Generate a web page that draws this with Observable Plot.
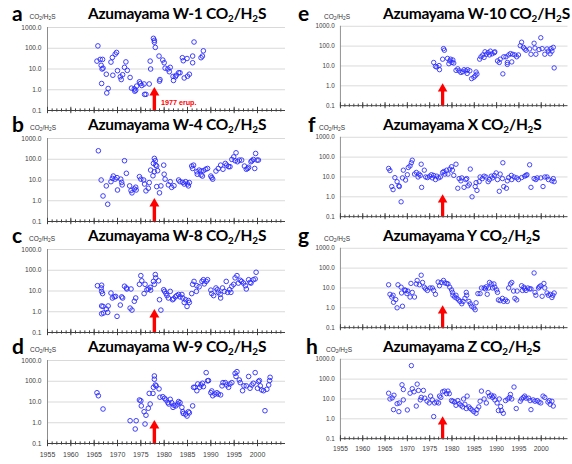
<!DOCTYPE html>
<html><head><meta charset="utf-8">
<script src="https://cdn.jsdelivr.net/npm/d3@7"></script>
<script src="https://cdn.jsdelivr.net/npm/@observablehq/plot@0.6"></script>
<style>
body{margin:0;background:#fff;}
#chart{position:relative;width:572px;height:464px;overflow:hidden;background:#fff;font-family:Lato,"Open Sans",sans-serif;}
.panel{position:absolute;}
.title{position:absolute;font-weight:700;font-size:15.5px;letter-spacing:-0.3px;white-space:nowrap;color:#000;line-height:1;}
.title sub{font-size:0.64em;vertical-align:-0.3em;line-height:0;letter-spacing:0;}
.letter{position:absolute;font-weight:700;font-size:21px;line-height:1;color:#000;}
.unit{position:absolute;font-size:6.5px;color:#333;line-height:1;white-space:nowrap;font-family:"Liberation Sans",sans-serif;}
.unit sub{font-size:0.75em;vertical-align:-0.25em;line-height:0;}
</style>
</head><body>
<div id="chart"></div>
<script>
// ---- data: [year, CO2/H2S ratio] ----
const w1 = [[1965.8,130],[1965.6,24],[1966.3,29],[1966.8,29],[1966.5,15],[1966.7,10],[1966.9,11],[1966.6,2.0],[1967.6,5.6],[1968.0,1.15],[1967.7,0.7],[1968.6,21.5],[1968.9,36],[1969.5,52],[1969.8,63],[1969.0,5],[1970.0,8.3],[1970.6,4.2],[1970.8,3.1],[1971.1,5.3],[1971.5,12],[1971.8,22],[1972.1,8.6],[1972.7,3.9],[1973.0,1.2],[1973.6,1.1],[1973.7,0.85],[1973.9,0.95],[1974.1,1.5],[1974.7,2.4],[1974.9,2.0],[1975.2,1.6],[1975.7,1.9],[1976.1,0.6],[1975.8,0.6],[1976.8,1.9],[1977.0,24],[1977.1,10],[1977.7,300],[1977.9,240],[1977.9,195],[1978.1,110],[1978.9,42],[1979.1,3.1],[1979.0,2.6],[1979.7,27],[1980.0,20],[1980.2,11],[1980.8,10],[1981.1,7.4],[1981.3,12],[1981.9,4.4],[1982.0,2.8],[1982.4,4.2],[1982.6,5],[1983.1,6.6],[1983.4,6.6],[1983.9,35],[1984.1,25],[1984.3,3.7],[1984.9,32],[1985.0,4.5],[1985.4,5.6],[1986.1,42],[1986.1,20],[1986.4,200],[1987.9,35],[1988.2,42],[1988.4,75]];
const w4 = [[1965.9,256],[1966.5,10],[1966.9,1.7],[1967.6,5.2],[1967.9,0.68],[1968.6,8.3],[1968.9,12],[1969.1,15.5],[1969.5,11],[1969.9,13],[1970.0,3.3],[1970.7,11],[1971.0,5.8],[1970.9,7.7],[1971.5,85],[1971.9,21],[1972.6,5.2],[1972.9,3.1],[1973.1,2.4],[1973.6,3.7],[1973.9,4.5],[1974.0,3.3],[1974.7,14.5],[1975.0,11],[1975.6,10],[1975.8,6.4],[1976.1,3.0],[1976.6,4.0],[1976.8,7.5],[1977.1,30],[1977.6,16],[1977.7,63],[1977.9,25],[1977.9,110],[1978.1,85],[1978.2,52],[1978.4,47],[1978.6,28],[1978.4,4.8],[1979.0,2.4],[1979.3,5.2],[1979.9,52],[1980.0,19],[1980.2,11],[1980.9,5.8],[1981.3,8.3],[1981.6,4.4],[1982.1,5.3],[1983.1,10],[1983.4,8.3],[1984.0,7.7],[1984.3,6.4],[1984.6,8.3],[1985.0,6.4],[1985.2,5.2],[1985.4,7.5],[1985.9,47],[1986.1,36],[1986.3,52],[1987.0,25],[1987.1,19],[1987.5,30],[1987.9,27],[1987.9,17.5],[1988.2,15.5],[1988.4,28],[1988.9,33],[1989.3,36],[1990.0,15.5],[1990.2,13],[1990.4,11],[1991.1,27],[1991.6,36],[1992.1,52],[1992.6,33],[1993.1,63],[1993.4,52],[1993.8,44],[1994.1,44],[1994.5,98],[1994.9,130],[1995.2,85],[1995.4,205],[1995.7,76],[1996.1,91],[1996.6,91],[1997.2,47],[1997.6,33],[1997.9,36],[1998.1,41],[1998.6,76],[1998.8,85],[1999.1,98],[1999.4,36],[1999.6,190],[1999.9,91],[2000.2,91]];
const w8 = [[1965.7,18],[1966.5,14],[1966.6,19],[1966.6,9.6],[1966.8,7.5],[1966.6,1.9],[1966.9,1.8],[1967.0,0.87],[1966.6,0.8],[1967.6,1.35],[1967.9,0.93],[1968.0,1.9],[1968.6,8.0],[1968.9,4.6],[1969.3,5.2],[1969.6,5.5],[1969.9,0.6],[1970.6,2.1],[1970.9,5.2],[1971.1,4.6],[1971.5,17],[1971.9,14],[1972.0,12.5],[1972.7,1.5],[1972.9,12.5],[1973.1,1.2],[1973.6,3.2],[1973.9,4.6],[1974.7,21],[1975.0,55],[1975.2,31],[1975.7,7.5],[1975.9,21],[1976.3,11.5],[1976.6,12.5],[1977.0,15],[1977.1,11],[1977.7,29],[1977.9,21],[1978.1,62],[1978.2,43],[1978.8,31],[1979.0,3.8],[1979.3,1.2],[1979.9,11.5],[1980.1,9.6],[1980.4,7.5],[1980.6,6],[1980.9,4.6],[1981.3,9.6],[1981.8,3.8],[1982.0,4.2],[1982.4,5.2],[1982.7,6],[1983.1,6.8],[1983.4,5.2],[1983.8,6.8],[1984.0,4.6],[1984.3,2.8],[1984.6,3.8],[1984.9,1.8],[1985.2,3.5],[1985.4,2.8],[1985.9,7.5],[1986.1,21],[1986.4,29],[1986.9,9.6],[1987.0,18],[1987.5,16],[1988.1,29],[1988.4,35],[1988.6,22],[1989.0,29],[1989.3,35],[1990.0,11],[1990.2,7.5],[1990.6,6],[1991.1,14],[1991.4,11.5],[1991.6,8.6],[1992.0,6.8],[1992.1,4.6],[1992.5,14],[1992.9,9.6],[1993.3,29],[1993.6,8.6],[1994.0,11.5],[1994.3,8.6],[1994.5,17],[1994.9,21],[1995.2,43],[1995.6,55],[1995.9,24],[1996.3,33],[1996.6,29],[1997.0,24],[1997.4,18],[1997.6,12.5],[1998.1,35],[1998.4,26],[1998.6,24],[1999.1,35],[1999.5,38],[1999.7,80]];
const w9 = [[1965.6,28],[1965.9,20],[1966.9,4.6],[1972.7,1.25],[1973.8,0.5],[1974.0,1.25],[1974.7,12.5],[1975.0,11.5],[1975.1,6.5],[1975.7,3.4],[1975.9,0.87],[1976.1,2.3],[1976.6,5],[1977.0,8],[1976.8,26],[1977.6,26],[1977.7,51],[1977.9,180],[1977.9,125],[1978.1,66],[1978.3,60],[1978.9,43],[1979.1,17],[1979.7,18],[1980.1,15],[1980.4,12.5],[1980.8,9.3],[1981.0,8],[1981.3,13.5],[1981.6,9.3],[1981.9,5.5],[1982.1,7],[1982.5,6.5],[1982.9,8],[1983.1,10.5],[1983.4,9.3],[1983.8,5.5],[1984.0,3.4],[1984.1,2.8],[1984.6,2.6],[1984.9,2.1],[1985.2,3.4],[1985.4,3.0],[1986.1,6.5],[1986.3,51],[1986.6,51],[1987.0,35],[1987.2,74],[1987.6,51],[1987.9,66],[1988.2,80],[1988.4,55],[1989.0,260],[1989.3,105],[1989.5,108],[1990.0,28],[1990.2,34],[1990.4,20],[1990.9,24],[1991.3,28],[1991.6,24],[1992.1,22],[1992.4,60],[1992.6,86],[1993.1,86],[1993.4,66],[1993.8,51],[1994.1,74],[1994.5,86],[1995.2,240],[1995.6,290],[1995.4,170],[1996.1,115],[1996.3,86],[1996.8,35],[1997.1,60],[1997.6,60],[1998.1,170],[1998.4,46],[1998.8,66],[1999.1,80],[1999.5,260],[2000.0,46],[2000.2,96],[2000.4,108],[2000.6,60],[2000.9,38],[2001.3,35],[2001.6,3.8],[2002.0,41],[2002.4,66],[2002.6,108],[2002.7,155]];
const w10 = [[1975.9,15],[1976.3,9.5],[1976.6,8.9],[1977.1,10.5],[1977.2,6.5],[1977.9,22],[1978.1,75],[1978.3,62],[1979.0,24],[1979.3,13],[1979.5,18],[1979.7,22],[1980.0,15],[1980.2,20],[1980.4,14],[1980.9,6],[1981.3,7.2],[1981.6,5.7],[1982.0,4.7],[1982.4,5.1],[1982.7,6.5],[1983.1,5.7],[1983.4,4.2],[1983.5,6.5],[1984.0,5.7],[1984.4,2.3],[1984.9,2.7],[1985.2,3.2],[1985.4,5],[1985.6,3.9],[1986.2,22],[1986.5,29],[1986.9,36],[1987.2,27],[1987.4,52],[1987.7,39],[1988.1,47],[1988.4,36],[1988.6,56],[1989.0,41],[1989.5,47],[1989.6,52],[1990.2,18],[1990.6,15],[1990.8,22],[1991.4,4.0],[1991.6,29],[1992.1,29],[1992.4,15],[1992.4,12],[1992.7,36],[1993.1,42],[1993.4,16],[1993.6,39],[1994.1,36],[1994.5,29],[1994.9,36],[1995.3,105],[1995.6,158],[1996.0,87],[1996.3,72],[1996.6,62],[1997.4,72],[1997.7,39],[1998.4,140],[1998.6,80],[1998.8,39],[1999.5,67],[1999.9,265],[2000.2,75],[2000.8,39],[2001.3,72],[2001.6,56],[2002.0,41],[2002.2,75],[2002.4,56],[2002.7,87],[2002.9,8]];
const stX = [[1965.8,27],[1966.1,21],[1966.5,3.3],[1966.8,2.3],[1967.2,9.3],[1967.7,5.8],[1968.1,3.6],[1968.2,3.3],[1968.6,0.56],[1969.1,22],[1968.9,9],[1969.6,7],[1970.0,13],[1970.2,30],[1970.6,36],[1970.9,52],[1971.1,70],[1971.6,14],[1972.0,17],[1972.4,10],[1972.6,14],[1972.9,12],[1973.1,44],[1973.2,3],[1973.8,22],[1974.1,10],[1974.5,9.3],[1975.0,11],[1975.4,13],[1975.6,9],[1975.9,12],[1976.3,7.4],[1976.6,11],[1977.0,9],[1977.4,10],[1977.9,17],[1978.2,19],[1978.4,14],[1978.8,22],[1979.1,14],[1979.5,25],[1979.9,33],[1980.1,22],[1980.4,12],[1980.9,44],[1981.3,2.7],[1981.6,8.3],[1982.0,6.4],[1982.2,9],[1982.7,3.0],[1983.1,7.4],[1983.3,8.3],[1983.6,3.6],[1983.9,4.4],[1984.1,25],[1984.5,1.0],[1985.2,3.3],[1985.6,2.1],[1985.4,5.2],[1986.1,5.8],[1986.3,10],[1986.8,8.3],[1987.2,11],[1987.6,10],[1988.1,5.8],[1988.4,7.4],[1988.8,11],[1989.1,9],[1989.5,12],[1989.9,16],[1990.2,7.4],[1990.6,1.9],[1990.8,14],[1991.3,8.3],[1991.4,52],[1991.6,3.3],[1992.2,2.7],[1992.4,6.4],[1992.7,9.3],[1993.3,12],[1993.4,7.4],[1993.9,10],[1994.5,9],[1994.9,7.4],[1995.6,9.3],[1996.3,11],[1996.6,12],[1996.8,13],[1997.4,41],[1997.7,3],[1998.4,8.3],[1998.8,7.4],[1999.1,9],[1999.9,9],[2000.4,3.3],[2000.8,10],[2001.3,10],[2001.6,7.4],[2002.4,6.4],[2002.7,8.3],[2002.9,5.8]];
const stY = [[1965.8,14.5],[1966.1,4.8],[1966.5,3.5],[1966.8,4.3],[1966.9,1.9],[1967.4,2.6],[1967.7,1.0],[1967.9,14.5],[1968.6,11],[1968.9,1.2],[1968.7,5.6],[1969.4,8],[1969.6,7.5],[1969.9,5.2],[1970.1,7],[1970.6,3.5],[1970.8,17],[1971.1,6],[1971.6,3.5],[1972.0,16],[1972.2,24],[1972.7,14.5],[1973.1,44],[1973.4,19],[1973.8,11],[1974.1,9],[1974.5,7.5],[1975.1,10],[1975.6,10],[1975.9,7.5],[1976.3,4.8],[1976.9,20],[1977.2,13],[1977.6,19],[1978.1,24],[1978.4,18],[1978.8,17],[1979.1,16],[1979.5,11],[1979.9,8],[1980.1,6],[1980.2,4.3],[1980.6,3.5],[1980.9,4.3],[1981.1,3],[1981.5,2.5],[1981.8,2.1],[1982.2,1.6],[1982.5,2.1],[1982.9,3],[1983.2,6],[1983.3,4.3],[1983.8,2.1],[1984.1,1.6],[1984.4,1.2],[1984.9,1.0],[1985.2,0.8],[1985.4,1.8],[1985.8,5.2],[1986.3,5.2],[1986.6,10],[1987.2,10],[1987.5,9],[1987.7,11.5],[1987.9,4.8],[1988.2,10],[1988.4,19],[1988.8,16],[1989.1,10],[1989.4,16],[1989.6,11],[1990.0,8],[1990.2,6],[1990.4,2.5],[1990.8,2.3],[1991.3,3],[1991.6,2.1],[1992.0,2.5],[1992.4,2.1],[1992.7,10],[1993.1,16],[1993.4,19],[1993.8,7],[1994.1,3],[1994.5,2.5],[1994.6,7],[1995.6,13],[1995.8,7.5],[1996.1,11],[1996.3,9],[1996.6,7.5],[1997.0,10],[1997.4,9],[1997.7,9],[1998.4,57],[1998.6,6],[1998.8,4.3],[1999.4,10],[1999.6,11.5],[1999.9,13],[2000.2,3.8],[2000.6,17],[2000.8,10],[2001.3,5.6],[2001.6,4.3],[2002.0,4.8],[2002.4,3.3],[2002.6,4.3],[2002.9,5.6]];
const stZ = [[1965.8,19.5],[1966.1,10],[1966.6,11.3],[1967.0,15.5],[1966.9,2.9],[1967.7,5.8],[1968.1,2.3],[1968.2,6.3],[1968.8,52],[1969.1,30],[1969.1,9],[1970.0,2.8],[1970.6,19.5],[1970.9,480],[1971.1,33],[1971.5,23],[1972.0,4.4],[1972.2,56],[1972.5,27],[1972.9,9],[1973.1,12],[1973.6,27],[1973.9,11],[1974.4,7.8],[1974.9,6.3],[1975.2,14],[1975.6,9],[1975.9,1.3],[1976.1,6.3],[1976.6,7],[1977.0,6.3],[1977.2,14],[1977.5,12],[1977.9,23],[1978.3,25],[1978.8,18.5],[1979.1,25],[1979.4,18.5],[1979.9,8.3],[1980.2,7.7],[1980.6,7],[1980.9,4.8],[1981.3,8.3],[1981.6,5.8],[1982.0,4.8],[1982.4,4],[1982.6,10],[1982.9,5.4],[1983.2,3.3],[1983.4,14],[1983.8,4],[1984.1,3.3],[1984.5,2.8],[1984.9,2.3],[1985.4,1.9],[1985.6,2.9],[1986.0,4],[1986.3,7.7],[1986.6,25],[1987.2,10],[1987.7,6.3],[1988.1,21],[1988.4,14],[1988.8,15.5],[1989.1,12],[1989.4,14],[1989.6,9],[1990.1,6.3],[1990.4,2.6],[1990.6,10],[1990.9,4.2],[1991.1,2.6],[1991.5,1.9],[1992.0,8.3],[1992.5,10],[1992.9,12],[1993.1,17],[1993.4,10],[1993.9,40],[1994.4,3.3],[1995.3,7.7],[1995.6,10],[1996.0,12],[1996.3,14],[1996.6,11],[1997.2,11],[1997.5,8.3],[1997.7,2.9],[1998.2,9],[1998.6,7.7],[1999.1,8.3],[1999.5,7],[1999.9,6.3],[2000.4,14],[2000.8,12],[2001.5,7],[2001.8,8.3],[2002.0,5.4],[2002.4,7.7],[2002.7,4.4]];

// ---- labels / annotation values ----
const panelLetters = ["a","b","c","d","e","f","g","h"];
const stationNames = ["W-1","W-4","W-8","W-9","W-10","X","Y","Z"];
const stationData = [w1,w4,w8,w9,w10,stX,stY,stZ];
const yTicks = [0.1,1,10,100,1000];
const gridValues = [1,10,100,1000];
const majorYears = d3.range(1955, 2001, 5);
const minorYears = d3.range(1955, 2006, 1);
const eruptionYear = [1977.9];
const arrowShaft = [0.1, 0.55];
const arrowHead = [0.72];
const eruptionNote = ["1977 erup."];
const eruptionNoteAt = [1979.3, 0.25];

const chart = document.getElementById("chart");
const panelStep = 111.1;
const colX = [0, 294.7];
const letterX = [12, 12, 12, 12, 298, 308, 298, 306];
const unitX = [29.5, 30, 29, 30, 324, 319, 324, 326];

const labelFont = "'Liberation Sans', Arial, sans-serif";

function panel(i) {
  const col = i < 4 ? 0 : 1;
  const row = i % 4;
  const bottom = row === 3;
  const height = bottom ? 126 : 112;
  const data = stationData[i];
  const marks = [
    Plot.ruleY(gridValues, {stroke: "#d9d9d9", strokeWidth: 1}),
    Plot.ruleX([1955], {stroke: "#8c8c8c", strokeWidth: 1}),
    Plot.axisY({ticks: yTicks, tickSize: 0, tickPadding: 6, tickFormat: d => d.toFixed(1), fontSize: 6.6, fill: "#404040", fontFamily: labelFont}),
    Plot.axisX({ticks: minorYears, tickSize: 1.6, tickFormat: () => "", stroke: "#404040"}),
    Plot.axisX({ticks: minorYears, tickSize: -1.6, tickFormat: () => "", stroke: "#404040"}),
    Plot.axisX({ticks: majorYears, tickSize: 3.2, tickPadding: 5, tickFormat: bottom ? (d => String(d)) : (() => ""), stroke: "#404040", fill: "#404040", fontSize: 7, fontFamily: labelFont}),
    Plot.axisX({ticks: majorYears, tickSize: -3.2, tickFormat: () => "", stroke: "#404040"}),
    Plot.ruleY([0.1], {stroke: "#404040", strokeWidth: 1}),
    Plot.dot(data, {x: d => d[0], y: d => d[1], r: 2.3, stroke: "#2a2aff", strokeWidth: 0.9, fill: "none"}),
    Plot.ruleX(eruptionYear, {y1: arrowShaft[0], y2: arrowShaft[1], stroke: "#ff0000", strokeWidth: 3.4}),
    Plot.dot(eruptionYear, {x: d => d, y: () => arrowHead[0], symbol: "triangle", r: 3.7, fill: "#ff0000", stroke: "none"})
  ];
  if (i === 0) {
    marks.push(Plot.text(eruptionNote, {x: () => eruptionNoteAt[0], y: () => eruptionNoteAt[1], text: d => d, textAnchor: "start", fill: "#ff0000", fontWeight: "bold", fontSize: 7.2, fontFamily: labelFont}));
  }
  const svg = Plot.plot({
    width: 290,
    height,
    marginTop: 27,
    marginLeft: 47,
    marginRight: 5,
    marginBottom: height - 110,
    x: {type: "linear", domain: [1955, 2006]},
    y: {type: "log", domain: [0.1, 1000]},
    style: {background: "transparent", overflow: "visible", fontFamily: labelFont},
    marks
  });
  const wrap = document.createElement("div");
  wrap.className = "panel";
  wrap.style.left = colX[col] + "px";
  wrap.style.top = (row * panelStep) + "px";
  wrap.appendChild(svg);
  chart.appendChild(wrap);

  const top = row * panelStep;
  const t = document.createElement("div");
  t.className = "title";
  t.style.left = (col === 0 ? 88 : 383) + "px";
  t.style.top = (top + 6) + "px";
  t.innerHTML = "Azumayama " + stationNames[i] + " CO<sub>2</sub>/H<sub>2</sub>S";
  chart.appendChild(t);

  const l = document.createElement("div");
  l.className = "letter";
  l.style.left = letterX[i] + "px";
  l.style.top = (top + 2) + "px";
  l.textContent = panelLetters[i];
  chart.appendChild(l);

  const u = document.createElement("div");
  u.className = "unit";
  u.style.left = unitX[i] + "px";
  u.style.top = (top + 13.5) + "px";
  u.innerHTML = "CO<sub>2</sub>/H<sub>2</sub>S";
  chart.appendChild(u);
}
for (let i = 0; i < 8; i++) panel(i);
</script>
</body></html>
